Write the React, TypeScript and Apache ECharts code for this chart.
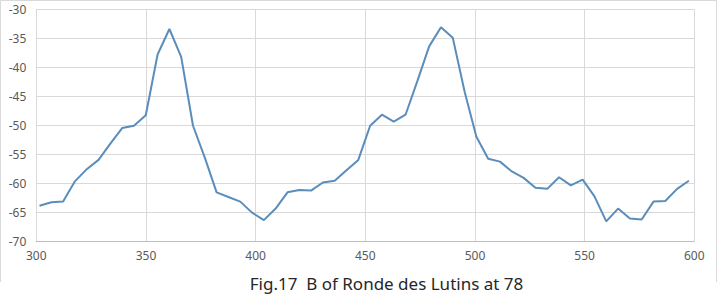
import React, { useEffect, useRef } from "react";
import * as echarts from "echarts";

const frequencies = [
  301.46, 306.85, 312.23, 317.61, 323.0, 328.38, 333.76, 339.15, 344.53, 349.91,
  355.3, 360.68, 366.06, 371.45, 376.83, 382.21, 387.6, 392.98, 398.36, 403.75,
  409.13, 414.51, 419.9, 425.28, 430.66, 436.05, 441.43, 446.81, 452.2, 457.58,
  462.96, 468.35, 473.73, 479.11, 484.5, 489.88, 495.26, 500.65, 506.03, 511.41,
  516.8, 522.18, 527.56, 532.95, 538.33, 543.71, 549.1, 554.48, 559.86, 565.25,
  570.63, 576.01, 581.4, 586.78, 592.16, 597.55,
];

const levels = [
  -63.9, -63.3, -63.2, -59.7, -57.6, -56.0, -53.2, -50.5, -50.1, -48.3,
  -37.8, -33.4, -38.2, -50.1, -55.6, -61.6, -62.4, -63.2, -65.1, -66.4,
  -64.4, -61.6, -61.2, -61.3, -59.9, -59.6, -57.8, -56.0, -50.1, -48.2,
  -49.4, -48.2, -42.4, -36.4, -33.1, -34.9, -44.2, -52.0, -55.8, -56.3,
  -58.0, -59.1, -60.8, -61.0, -59.0, -60.4, -59.4, -62.3, -66.6, -64.4,
  -66.1, -66.3, -63.2, -63.1, -61.0, -59.6,
];

const chartTitle = "Fig.17  B of Ronde des Lutins at 78";

export default function App() {
  const ref = useRef<HTMLDivElement>(null);

  useEffect(() => {
    document.body.style.margin = "0";
    if (!ref.current) return;
    const chart = echarts.init(ref.current, null, { renderer: "svg" });
    const labelStyle = {
      color: "#595959",
      fontSize: 12,
      fontFamily: "'Noto Sans', sans-serif",
    };
    chart.setOption({
      animation: false,
      backgroundColor: "#ffffff",
      grid: { left: 36.3, right: 23.7, top: 9.3, bottom: 57 },
      xAxis: {
        type: "value",
        min: 300,
        max: 600,
        interval: 50,
        axisLine: { show: true, lineStyle: { color: "#bfbfbf", width: 1 } },
        axisTick: { show: false },
        axisLabel: { ...labelStyle, margin: 8 },
        splitLine: { show: true, lineStyle: { color: "#d9d9d9", width: 1 } },
      },
      yAxis: {
        type: "value",
        min: -70,
        max: -30,
        interval: 5,
        axisLine: { show: false },
        axisTick: { show: false },
        axisLabel: { ...labelStyle, margin: 10 },
        splitLine: { show: true, lineStyle: { color: "#d9d9d9", width: 1 } },
      },
      series: [
        {
          type: "line",
          data: frequencies.map((f, i) => [f, levels[i]]),
          showSymbol: false,
          symbol: "none",
          lineStyle: { color: "#5b8dbb", width: 2 },
        },
      ],
      graphic: [
        {
          type: "polyline",
          shape: {
            points: [
              [0.5, 282],
              [0.5, 0.5],
              [716.5, 0.5],
              [716.5, 282],
            ],
          },
          style: { stroke: "#d9d9d9", fill: null, lineWidth: 1 },
          silent: true,
        },
        {
          type: "text",
          x: 386.5,
          y: 283,
          style: {
            text: chartTitle,
            fill: "#262626",
            fontSize: 17,
            fontFamily: "'Noto Sans', sans-serif",
            align: "center",
            verticalAlign: "middle",
          },
        },
      ],
    });
    return () => chart.dispose();
  }, []);

  return <div ref={ref} style={{ width: 718, height: 298 }} />;
}
